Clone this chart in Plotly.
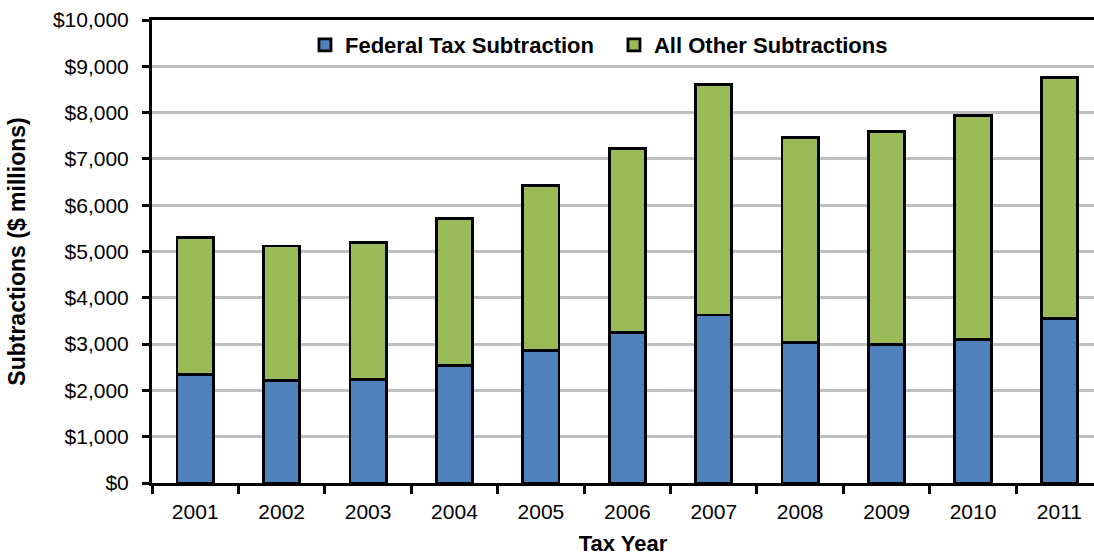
import plotly.graph_objects as go

years = ["2001", "2002", "2003", "2004", "2005", "2006", "2007", "2008", "2009", "2010", "2011"]
totals = [5300, 5120, 5190, 5720, 6420, 7230, 8600, 7460, 7590, 7930, 8760]
federal = [2350, 2220, 2230, 2540, 2870, 3250, 3630, 3030, 2990, 3100, 3550]
other = [t - f for t, f in zip(totals, federal)]
y_ticks = [0, 1000, 2000, 3000, 4000, 5000, 6000, 7000, 8000, 9000, 10000]
y_tick_text = ["$" + format(v, ",") for v in y_ticks]

FONT = "Liberation Sans, Arial, sans-serif"

fig = go.Figure()
fig.add_trace(go.Bar(x=years, y=federal, name="Federal Tax Subtraction",
                     marker=dict(color="#4F81BD", line=dict(color="black", width=2.8))))
fig.add_trace(go.Bar(x=years, y=other, name="All Other Subtractions",
                     marker=dict(color="#9BBB59", line=dict(color="black", width=2.8))))

fig.update_layout(
    barmode="stack",
    bargap=0.58,
    width=1094, height=556,
    margin=dict(l=152, r=0, t=20, b=73, pad=0),
    plot_bgcolor="white", paper_bgcolor="white",
    font=dict(family=FONT, size=21, color="black"),
    showlegend=True,
    legend=dict(orientation="h", x=0.1624, xanchor="left", y=0.946, yanchor="middle",
                font=dict(family=FONT, size=22, color="black", weight="bold"),
                bgcolor="rgba(0,0,0,0)", itemwidth=30, entrywidth=264,
                traceorder="normal"),
    xaxis=dict(
        type="category", range=[-0.5, 10.4],
        showline=True, linecolor="black", linewidth=3, mirror=True,
        ticks="outside", tickson="boundaries", ticklen=8, tickwidth=2.5, tickcolor="black",
        showgrid=False,
        tickfont=dict(family=FONT, size=21),
        ticklabelstandoff=8,
        title=dict(text="<b>Tax Year</b>", font=dict(family=FONT, size=22), standoff=15),
        automargin=False,
    ),
    yaxis=dict(
        range=[0, 10000], tickvals=y_ticks, ticktext=y_tick_text,
        showline=True, linecolor="black", linewidth=3,
        ticks="outside", ticklen=7, tickwidth=2.5, tickcolor="black",
        showgrid=True, gridcolor="#BFBFBF", gridwidth=2.5,
        zeroline=False,
        tickfont=dict(family=FONT, size=21),
        ticklabelstandoff=9,
        title=dict(text="<b>Subtractions ($ millions)</b>", font=dict(family=FONT, size=23), standoff=21),
        automargin=False,
    ),
)

fig.write_html("out.html", config={"displayModeBar": False},
               post_script="document.body.style.margin='0';document.body.style.padding='0';")
